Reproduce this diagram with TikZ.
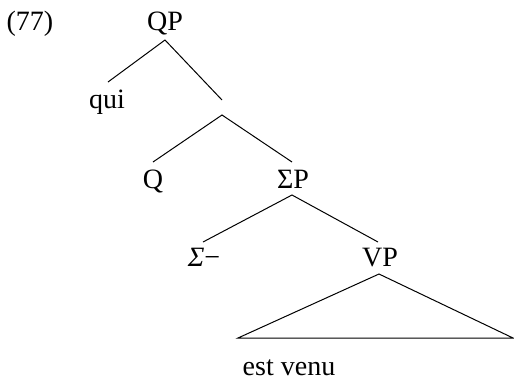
\documentclass[tikz,border=0pt]{standalone}
\usepackage{fontspec}
\setmainfont{Liberation Serif}
\usepackage{tikz}
\tikzset{lbl/.style={anchor=base,inner sep=0pt,font=\fontsize{14}{17}\selectfont}}
\tikzset{br/.style={line width=0.5pt}}

\begin{document}
\begin{tikzpicture}[x=0.5pt,y=-0.5pt]
  \useasboundingbox (0,0) rectangle (514,381);
  % labels
  \node[lbl] (ex) at (30,30) {(77)};
  \node[lbl] (qp) at (165,30) {QP};
  \node[lbl] (qui) at (107,108) {qui};
  \node[lbl] (q) at (153,188) {Q};
  \node[lbl] (sp) at (293,188) {ΣP};
  \node[lbl] (sneg) at (204,266) {\textit{Σ}−};
  \node[lbl] (vp) at (380,266) {VP};
  \node[lbl] (venu) at (289,375) {est venu};
  % branch points
  \coordinate (qp-b) at (165,40);
  \coordinate (qui-t) at (108,82);
  \coordinate (x-t) at (222,100);
  \coordinate (x-b) at (222,115);
  \coordinate (q-t) at (153,162);
  \coordinate (sp-t) at (292,162);
  \coordinate (sp-b) at (292,195);
  \coordinate (sneg-t) at (203,242);
  \coordinate (vp-t) at (378,242);
  \coordinate (vp-b) at (379,274);
  \coordinate (tri-l) at (238,338);
  \coordinate (tri-r) at (513,338);
  % branches
  \draw[br] (qui-t) -- (qp-b) -- (x-t);
  \draw[br] (q-t) -- (x-b) -- (sp-t);
  \draw[br] (sneg-t) -- (sp-b) -- (vp-t);
  \draw[br] (vp-b) -- (tri-l) -- (tri-r) -- cycle;
\end{tikzpicture}
\end{document}
